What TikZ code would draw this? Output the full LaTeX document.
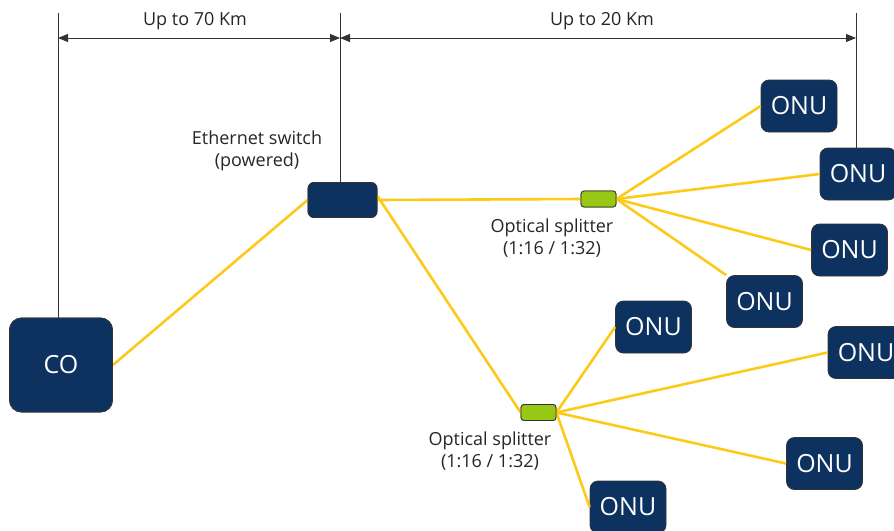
\documentclass[tikz,border=0pt]{standalone}
\usepackage{fontspec}
\setmainfont{Open Sans}
\usetikzlibrary{arrows.meta}
\definecolor{navy}{RGB}{14,50,96}
\definecolor{fiber}{RGB}{252,202,24}
\definecolor{splitgreen}{RGB}{150,200,20}
\begin{document}
\begin{tikzpicture}[x=1pt,y=-1pt,
  box/.style={draw=black!80, line width=0.8pt, fill=navy, rounded corners=8pt, text=white,
    font=\fontsize{25}{25}\selectfont, inner sep=0pt},
  onu/.style={box, minimum width=76pt, minimum height=52pt},
  sw/.style={box, rounded corners=6pt, minimum width=69pt, minimum height=35pt},
  splitbox/.style={draw=black!80, line width=0.8pt, fill=splitgreen, rounded corners=3pt,
    minimum width=35pt, minimum height=16pt, inner sep=0pt},
  lbl/.style={align=center, font=\fontsize{18}{22.5}\selectfont, text=black!85},
  fib/.style={draw=fiber, line width=2.6pt},
  dim/.style={draw=black!80, line width=1pt},
  dimarrow/.style={dim, {Triangle[length=10pt,width=8pt]}-{Triangle[length=10pt,width=8pt]}}
]
\useasboundingbox (0,0) rectangle (894,530);

% fibres are drawn first, so the boxes are placed at fixed coordinates
\coordinate (cCO) at (61,365);
\coordinate (cSW) at (342.5,200);
\coordinate (cS1) at (598.5,199);
\coordinate (cS2) at (538.5,412.5);

% nodes
\node[onu] (O1) at (799,106) {ONU};
\node[onu] (O2) at (858,174) {ONU};
\node[onu] (O3) at (849.5,250) {ONU};
\node[onu] (O4) at (764.5,301.5) {ONU};
\node[onu] (O5) at (653.5,327) {ONU};
\node[onu] (O6) at (866,352.5) {ONU};
\node[onu] (O7) at (824.5,463.5) {ONU};
\node[onu] (O8) at (628,507) {ONU};

\node[box, minimum width=103pt, minimum height=94pt, rounded corners=12pt] (CO) at (cCO) {CO};
\node[sw] (SW) at (cSW) {};
\node[splitbox] (S1) at (cS1) {};
\node[splitbox] (S2) at (cS2) {};

% labels
\node[lbl] (LSW) at (257,151) {Ethernet switch\\(powered)};
\node[lbl] (LS1) at (552,238) {Optical splitter\\(1:16 / 1:32)};
\node[lbl] (LS2) at (490,451) {Optical splitter\\(1:16 / 1:32)};
\node[lbl] (D1) at (195,21) {Up to 70 Km};
\node[lbl] (D2) at (602,21) {Up to 20 Km};

% dimension lines
\coordinate (t1) at (58,13);
\coordinate (t2) at (340,13);
\coordinate (t3) at (856,13);
\coordinate (a1) at (58,38);
\coordinate (a2) at (340,38);
\coordinate (a3) at (856,38);
\draw[dim] (t1) -- (t1 |- CO.north);
\draw[dim] (t2) -- (t2 |- SW.north);
\draw[dim] (t3) -- (t3 |- O2.north);
\draw[dimarrow] (a1) -- (a2);
\draw[dimarrow] (a2) -- (a3);

% fibres
\draw[fib] (CO.east) -- (SW.west);
\draw[fib] (SW.east) -- (S1.west);
\draw[fib] ([yshift=4pt]SW.east) -- (S2.west);
\draw[fib] (S1.east) -- (O1.west);
\draw[fib] (S1.east) -- (O2.west);
\draw[fib] (S1.east) -- (O3.west);
\draw[fib] (S1.east) -- (O4.north west);
\draw[fib] (S2.east) -- (O5.west);
\draw[fib] (S2.east) -- (O6.west);
\draw[fib] (S2.east) -- (O7.west);
\draw[fib] (S2.east) -- (O8.west);

% boxes again on top of the fibre ends
\node[box, minimum width=103pt, minimum height=94pt, rounded corners=12pt] (COtop) at (cCO) {CO};
\node[sw] (SWtop) at (cSW) {};
\node[splitbox] (S1top) at (cS1) {};
\node[splitbox] (S2top) at (cS2) {};
\end{tikzpicture}
\end{document}
